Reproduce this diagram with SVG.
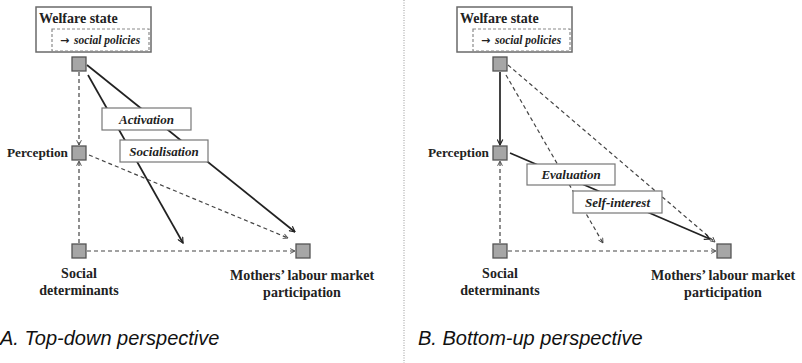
<svg xmlns="http://www.w3.org/2000/svg" width="802" height="363" viewBox="0 0 802 363">
  <defs>
    <marker id="arrow" viewBox="0 0 10 10" refX="9" refY="5" markerWidth="7" markerHeight="7" orient="auto" markerUnits="userSpaceOnUse">
      <path d="M1,1 L9,5 L1,9" fill="none" stroke="#222" stroke-width="1.7"/>
    </marker>
    <marker id="arrow-d" viewBox="0 0 10 10" refX="9" refY="5" markerWidth="6" markerHeight="6" orient="auto" markerUnits="userSpaceOnUse">
      <path d="M1,1 L9,5 L1,9" fill="none" stroke="#444" stroke-width="1.5"/>
    </marker>
  </defs>
  <style>
    .frame { fill: #fff; stroke: #6a6a6a; stroke-width: 1.5; }
    .inner { fill: #fff; stroke: #8a8a8a; stroke-width: 1.2; stroke-dasharray: 3 2; }
    .sq { fill: #a6a6a6; stroke: #555; stroke-width: 1.3; }
    .lbox { fill: #fff; stroke: #777; stroke-width: 1.2; }
    .solid { fill: none; stroke: #222; stroke-width: 1.7; marker-end: url(#arrow); }
    .dash { fill: none; stroke: #444; stroke-width: 1.2; stroke-dasharray: 4 3; marker-end: url(#arrow-d); }
    .t { font-family: "Liberation Serif", "Times New Roman", serif; font-weight: bold; fill: #222; }
    .node { font-size: 14px; }
    .mid { text-anchor: middle; }
    .mech { font-size: 13px; font-style: italic; text-anchor: middle; }
    .pol { font-size: 11.5px; font-style: italic; }
    .arr { font-family: "DejaVu Sans", sans-serif; font-style: normal; font-size: 11px; }
    .cap { font-family: "Liberation Sans", Arial, sans-serif; font-style: italic; font-size: 20px; fill: #111; }
    .divider { stroke: #999; stroke-width: 1; stroke-dasharray: 1 1.5; }
  </style>

  <!-- panel divider -->
  <line class="divider" x1="404" y1="0" x2="404" y2="363"/>

  <!-- ===== Panel A: top-down ===== -->
  <g id="a-connectors">
    <line class="dash" x1="79" y1="72" x2="79" y2="145"/>
    <line class="dash" x1="79" y1="243" x2="79" y2="161"/>
    <line class="dash" x1="87" y1="251" x2="295" y2="251"/>
    <line class="dash" x1="89" y1="155" x2="288" y2="238"/>
    <line class="solid" x1="87" y1="65" x2="295" y2="232"/>
    <line class="solid" x1="88" y1="75" x2="183" y2="243"/>
  </g>

  <g id="a-welfare">
    <rect class="frame" x="36" y="7" width="115" height="45"/>
    <text class="t node" x="39" y="23">Welfare state</text>
    <rect class="inner" x="52" y="29" width="97" height="22"/>
    <text class="t pol" x="60" y="44"><tspan class="arr">→</tspan><tspan x="74">social policies</tspan></text>
  </g>
  <g id="a-welfare-pt"><rect class="sq" x="72" y="57" width="14" height="14"/></g>
  <g id="a-perception">
    <rect class="sq" x="72" y="146" width="14" height="14"/>
    <text class="t" font-size="13.3" x="68" y="157" text-anchor="end">Perception</text>
  </g>
  <g id="a-social">
    <rect class="sq" x="72" y="244" width="14" height="14"/>
    <text class="t node mid" x="79" y="278">Social</text>
    <text class="t node mid" x="79" y="295">determinants</text>
  </g>
  <g id="a-mothers">
    <rect class="sq" x="296" y="244" width="14" height="14"/>
    <text class="t node mid" x="302" y="280">Mothers’ labour market</text>
    <text class="t node mid" x="302" y="297">participation</text>
  </g>
  <g id="a-activation">
    <rect class="lbox" x="102" y="108" width="89" height="22"/>
    <text class="t mech" x="146.5" y="123.5">Activation</text>
  </g>
  <g id="a-socialisation">
    <rect class="lbox" x="120" y="140" width="88" height="22"/>
    <text class="t mech" x="164" y="155.5">Socialisation</text>
  </g>
  <text class="cap" x="0" y="345">A. Top-down perspective</text>

  <!-- ===== Panel B: bottom-up ===== -->
  <g id="b-connectors">
    <line class="solid" x1="500" y1="72" x2="500" y2="145"/>
    <line class="dash" x1="500" y1="243" x2="500" y2="161"/>
    <line class="dash" x1="508" y1="251" x2="716" y2="251"/>
    <line class="dash" x1="508" y1="65" x2="715" y2="242"/>
    <line class="dash" x1="506" y1="75" x2="603" y2="243"/>
    <line class="solid" x1="510" y1="153" x2="710" y2="239"/>
  </g>

  <g id="b-welfare">
    <rect class="frame" x="457" y="7" width="115" height="45"/>
    <text class="t node" x="460" y="23">Welfare state</text>
    <rect class="inner" x="473" y="29" width="97" height="22"/>
    <text class="t pol" x="481" y="44"><tspan class="arr">→</tspan><tspan x="495">social policies</tspan></text>
  </g>
  <g id="b-welfare-pt"><rect class="sq" x="493" y="57" width="14" height="14"/></g>
  <g id="b-perception">
    <rect class="sq" x="493" y="146" width="14" height="14"/>
    <text class="t" font-size="13.3" x="489" y="157" text-anchor="end">Perception</text>
  </g>
  <g id="b-social">
    <rect class="sq" x="493" y="244" width="14" height="14"/>
    <text class="t node mid" x="500" y="278">Social</text>
    <text class="t node mid" x="500" y="295">determinants</text>
  </g>
  <g id="b-mothers">
    <rect class="sq" x="717" y="244" width="14" height="14"/>
    <text class="t node mid" x="723" y="280">Mothers’ labour market</text>
    <text class="t node mid" x="723" y="297">participation</text>
  </g>
  <g id="b-evaluation">
    <rect class="lbox" x="527" y="164" width="88" height="21"/>
    <text class="t mech" x="571" y="179">Evaluation</text>
  </g>
  <g id="b-selfinterest">
    <rect class="lbox" x="573" y="191" width="89" height="22"/>
    <text class="t mech" x="617.5" y="206.5">Self-interest</text>
  </g>
  <text class="cap" x="418" y="345">B. Bottom-up perspective</text>
</svg>
